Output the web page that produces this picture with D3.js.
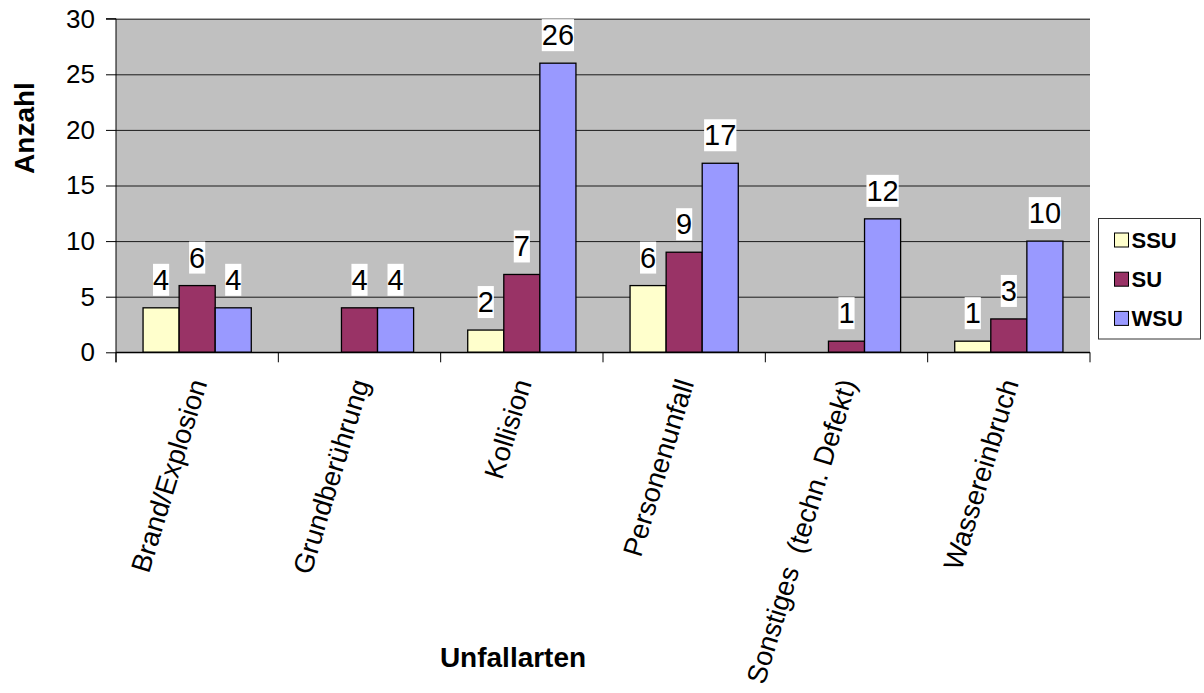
<!DOCTYPE html>
<html>
<head>
<meta charset="utf-8">
<script src="https://cdn.jsdelivr.net/npm/d3@7/dist/d3.min.js"></script>
<style>
  html, body { margin: 0; padding: 0; background: #fff; }
  svg { display: block; font-family: "Liberation Sans", Arial, sans-serif; }
  text { white-space: pre; }
</style>
</head>
<body>
<svg id="chart" width="1204" height="693"></svg>
<script>
// Accident types (Unfallarten) and counts per severity class
const categories = ["Brand/Explosion", "Grundberührung", "Kollision", "Personenunfall", "Sonstiges  (techn. Defekt)", "Wassereinbruch"];
const seriesNames = ["SSU", "SU", "WSU"];
const ssuValues = [4, 0, 2, 6, 0, 1];
const suValues = [6, 4, 7, 9, 1, 3];
const wsuValues = [4, 4, 26, 17, 12, 10];
const yTickValues = [0, 5, 10, 15, 20, 25, 30];
const seriesColors = ["#FFFFCC", "#993366", "#9999FF"];

const seriesValues = [ssuValues, suValues, wsuValues];

const svg = d3.select("#chart");
const plot = { left: 116, right: 1090, top: 18.7, bottom: 352.3 };

const x = d3.scaleBand().domain(categories).range([plot.left, plot.right]).paddingInner(0).paddingOuter(0);
const band = x.bandwidth();
// three bars per group with a gap of 1.5 bar widths between groups
const barW = band / 4.5;
const xs = d3.scaleBand().domain(seriesNames).range([barW * 0.75, barW * 3.75]).padding(0);
const y = d3.scaleLinear().domain([0, 30]).range([plot.bottom, plot.top]);

// plot background
svg.append("rect")
  .attr("x", plot.left).attr("y", plot.top)
  .attr("width", plot.right - plot.left).attr("height", plot.bottom - plot.top)
  .attr("fill", "#C0C0C0");

// horizontal gridlines
svg.append("g")
  .attr("transform", `translate(${plot.left},0)`)
  .call(d3.axisLeft(y).tickValues(yTickValues).tickSize(-(plot.right - plot.left)).tickFormat(""))
  .call(g => g.select(".domain").remove())
  .call(g => g.selectAll("line").attr("stroke", "#1a1a1a").attr("stroke-width", 1));

// bars
const rows = [];
categories.forEach((c, i) => {
  seriesNames.forEach((s, j) => {
    rows.push({ cat: c, series: s, value: seriesValues[j][i], color: seriesColors[j] });
  });
});
const shown = rows.filter(d => d.value > 0);

svg.append("g").selectAll("rect")
  .data(shown)
  .join("rect")
  .attr("x", d => x(d.cat) + xs(d.series))
  .attr("y", d => y(d.value))
  .attr("width", xs.bandwidth())
  .attr("height", d => y(0) - y(d.value))
  .attr("fill", d => d.color)
  .attr("stroke", "#000")
  .attr("stroke-width", 1.3);

// value labels on white boxes
const labels = svg.append("g").selectAll("g")
  .data(shown)
  .join("g");
labels.append("text")
  .attr("x", d => x(d.cat) + xs(d.series) + xs.bandwidth() / 2)
  .attr("y", d => y(d.value) - 18)
  .attr("text-anchor", "middle")
  .attr("font-size", 29)
  .attr("fill", "#000")
  .text(d => d.value);
labels.each(function () {
  const t = d3.select(this).select("text");
  const b = t.node().getBBox();
  d3.select(this).insert("rect", "text")
    .attr("x", b.x).attr("y", b.y).attr("width", b.width).attr("height", b.height)
    .attr("fill", "#fff");
});

// value axis
svg.append("g")
  .attr("transform", `translate(${plot.left},0)`)
  .call(d3.axisLeft(y).tickValues(yTickValues).tickSize(10).tickPadding(11))
  .call(g => g.select(".domain").attr("stroke", "#000").attr("d", `M-10,${plot.top}H0V${plot.bottom + 10}`))
  .call(g => g.selectAll("line").attr("stroke", "#000"))
  .call(g => g.selectAll("text").attr("font-size", 26).attr("fill", "#000")
    .attr("font-family", "'Liberation Sans', Arial, sans-serif"));

// category axis line and boundary ticks
const bounds = categories.map(c => x(c)).concat([x.range()[1]]);
const xAxis = svg.append("g");
xAxis.append("line")
  .attr("x1", plot.left).attr("x2", plot.right)
  .attr("y1", plot.bottom).attr("y2", plot.bottom)
  .attr("stroke", "#000").attr("stroke-width", 1.3);
xAxis.selectAll("line.tick")
  .data(bounds)
  .join("line")
  .attr("class", "tick")
  .attr("x1", d => d).attr("x2", d => d)
  .attr("y1", plot.bottom).attr("y2", plot.bottom + 10)
  .attr("stroke", "#000");

// rotated category labels
xAxis.selectAll("text")
  .data(categories)
  .join("text")
  .attr("transform", d => `translate(${x(d) + band / 2 + 1},380) rotate(-73)`)
  .attr("text-anchor", "end")
  .attr("dy", "0.35em")
  .attr("font-size", 27.5)
  .attr("fill", "#000")
  .text(d => d);

// axis titles
svg.append("text")
  .attr("transform", "translate(34,128) rotate(-90)")
  .attr("text-anchor", "middle")
  .attr("font-size", 28)
  .attr("font-weight", "bold")
  .text("Anzahl");
svg.append("text")
  .attr("x", 513).attr("y", 667)
  .attr("text-anchor", "middle")
  .attr("font-size", 28)
  .attr("font-weight", "bold")
  .text("Unfallarten");

// legend
const legend = svg.append("g").attr("transform", "translate(1098.5,218.5)");
legend.append("rect")
  .attr("width", 102).attr("height", 120.5)
  .attr("fill", "#fff").attr("stroke", "#333").attr("stroke-width", 1);
const item = legend.selectAll("g.item")
  .data(seriesNames)
  .join("g")
  .attr("class", "item")
  .attr("transform", (d, i) => `translate(16,${14.5 + i * 39.2})`);
item.append("rect")
  .attr("width", 14).attr("height", 14)
  .attr("fill", (d, i) => seriesColors[i])
  .attr("stroke", "#000").attr("stroke-width", 1);
item.append("text")
  .attr("x", 17).attr("y", 7)
  .attr("dy", "0.36em")
  .attr("font-size", 22)
  .attr("font-weight", "bold")
  .text(d => d);
</script>
</body>
</html>
